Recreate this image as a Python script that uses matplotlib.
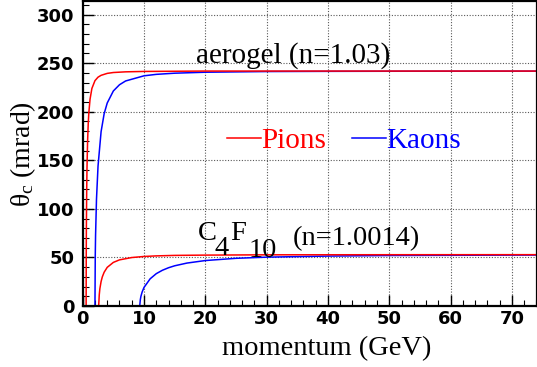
"""Cherenkov angle vs momentum for pions and kaons."""
import matplotlib
matplotlib.use("Agg")
import matplotlib.pyplot as plt
from matplotlib.ticker import MultipleLocator

plt.rcParams['font.family'] = ['Liberation Serif', 'DejaVu Serif']
plt.rcParams['mathtext.fontset'] = 'custom'
plt.rcParams['mathtext.rm'] = 'Liberation Serif'
plt.rcParams['mathtext.it'] = 'Liberation Serif'

# aerogel radiator (n=1.03), theta_c in mrad
p_pi_aero = [0, 0.56, 0.58, 0.6, 0.65, 0.7, 0.8, 0.9, 1.0, 1.2, 1.5, 2, 2.5, 3, 4, 5, 7, 10, 20, 75]
th_pi_aero = [0, 0, 53, 80, 118, 142, 170, 187.5, 199, 213, 224, 232, 235.6, 237.5, 239.5, 240.4, 241.1, 241.5, 241.9, 241.9]
p_k_aero = [0, 2.0, 2.05, 2.1, 2.25, 2.5, 3, 3.5, 4, 5, 6, 7, 10, 12, 15, 20, 30, 40, 50, 75]
th_k_aero = [0, 0, 52, 73, 110, 144, 179.5, 198, 209, 221.4, 227.8, 231.7, 237.0, 238.5, 239.7, 240.7, 241.4, 241.6, 241.7, 241.8]

# C4F10 radiator (n=1.0014)
p_pi_gas = [0, 2.6, 2.65, 2.7, 2.8, 3, 3.2, 3.5, 4, 5, 6, 8, 10, 12, 15, 20, 30, 50, 75]
th_pi_gas = [0, 0, 5.3, 11.4, 17.8, 25.2, 30.0, 34.8, 39.8, 44.9, 47.5, 49.9, 51.0, 51.6, 52.1, 52.4, 52.7, 52.8, 52.85]
p_k_gas = [0, 9.3, 9.4, 9.5, 9.7, 10, 11, 12, 13, 14, 15, 17, 20, 25, 30, 40, 50, 60, 75]
th_k_gas = [0, 0, 6.6, 10.1, 14.5, 19.1, 28.0, 33.3, 36.8, 39.4, 41.4, 44.2, 46.8, 49.1, 50.3, 51.4, 52.0, 52.2, 52.5]

fig = plt.figure(figsize=(5.37, 3.67), dpi=100)
ax = fig.add_axes([0.154, 0.1662, 0.846, 0.831])

ax.plot(p_k_gas, th_k_gas, color='blue', lw=1.1)
ax.plot(p_k_aero, th_k_aero, color='blue', lw=1.1, label='Kaons')
ax.plot(p_pi_gas, th_pi_gas, color='red', lw=1.1)
ax.plot(p_pi_aero, th_pi_aero, color='red', lw=1.1, label='Pions')

ax.set_xlim(0, 74.1)
ax.set_ylim(0, 314)
ax.xaxis.set_major_locator(MultipleLocator(10))
ax.xaxis.set_minor_locator(MultipleLocator(2))
ax.yaxis.set_major_locator(MultipleLocator(50))
ax.yaxis.set_minor_locator(MultipleLocator(10))
ax.grid(True, which='major', color='0.35', linestyle=(0, (1, 1.5)), linewidth=0.8)
ax.tick_params(which='both', direction='in', top=False, right=False)
ax.tick_params(which='major', length=8, width=1.0)
ax.tick_params(which='minor', length=4, width=0.8)
ax.tick_params(axis='x', pad=3)
ax.tick_params(axis='y', pad=6)
for lab in ax.get_xticklabels() + ax.get_yticklabels():
    lab.set_family('DejaVu Sans')
    lab.set_fontweight('bold')
    lab.set_fontsize(13)
for s in ax.spines.values():
    s.set_linewidth(1.6)

ax.set_xlabel('momentum (GeV)', fontsize=20.5, va='top')
ax.xaxis.set_label_coords(0.538, -0.1)
ax.set_ylabel(r'θ$_{\rm c}$ (mrad)', fontsize=20)
ax.yaxis.set_label_coords(-0.098, 0.5)

ax.text(18.5, 251, 'aerogel (n=1.03)', fontsize=21, va='baseline')
# C4F10 with big, dropped subscripts
ax.text(18.8, 67.9, 'C', fontsize=20.5, va='baseline')
ax.text(21.5, 52.5, '4', fontsize=20.5, va='baseline')
ax.text(24.0, 67.9, 'F', fontsize=20.5, va='baseline')
ax.text(27.0, 50.4, '10', fontsize=20.5, va='baseline')
ax.text(34.3, 62.7, '(n=1.0014)', fontsize=20.5, va='baseline')

handles, labels = ax.get_legend_handles_labels()
ax.legend(handles[::-1], labels[::-1], ncol=2, frameon=False, fontsize=21,
          labelcolor='linecolor', handlelength=1.17, handletextpad=0.0,
          columnspacing=0.9, loc='center', bbox_to_anchor=(0.575, 0.541))

fig.savefig('out.png', dpi=100)
